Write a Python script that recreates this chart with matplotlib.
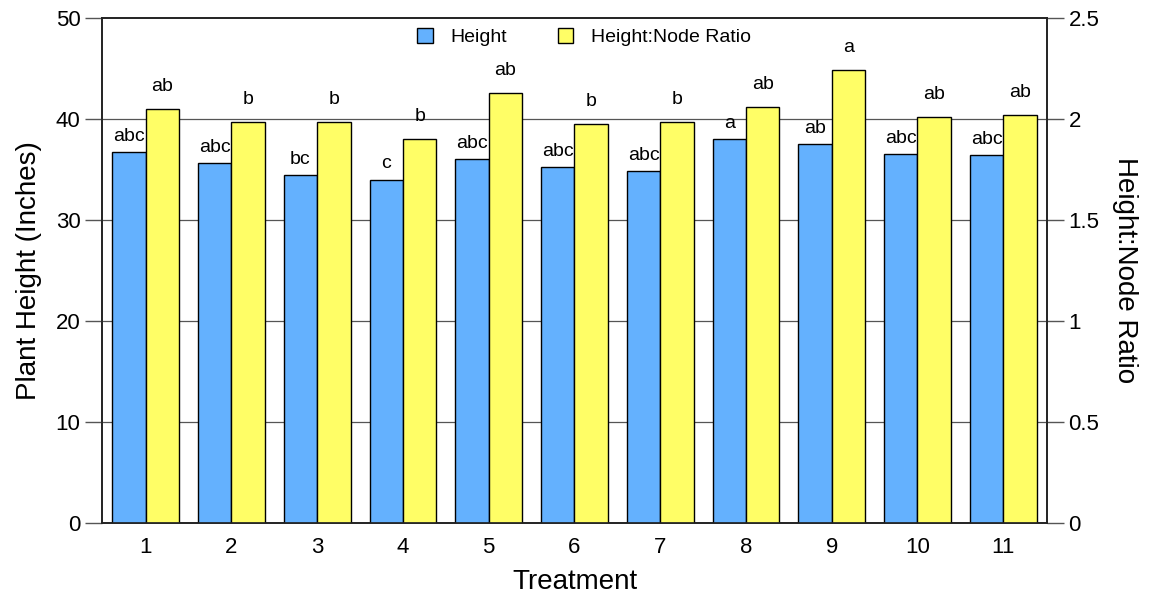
import numpy as np
import matplotlib
matplotlib.use('Agg')
from matplotlib import pyplot as plt

plt.rcParams['font.family'] = ['Liberation Sans', 'DejaVu Sans']

treatments = [1, 2, 3, 4, 5, 6, 7, 8, 9, 10, 11]
height = [36.7, 35.6, 34.4, 34.0, 36.0, 35.2, 34.8, 38.0, 37.5, 36.5, 36.4]
ratio = [2.05, 1.985, 1.985, 1.90, 2.13, 1.975, 1.985, 2.06, 2.24, 2.01, 2.02]
height_letters = ['abc', 'abc', 'bc', 'c', 'abc', 'abc', 'abc', 'a', 'ab', 'abc', 'abc']
ratio_letters = ['ab', 'b', 'b', 'b', 'ab', 'b', 'b', 'ab', 'a', 'ab', 'ab']

blue = '#64b1fe'
yellow = '#fffe66'
w = 0.39

fig = plt.figure(figsize=(11.51, 5.97), dpi=100)
ax = fig.add_axes([0.0886, 0.124, 0.821, 0.846])
ax2 = ax.twinx()
ax.set_zorder(ax2.get_zorder() + 1)
ax.patch.set_visible(False)

x = np.array(treatments)

# horizontal grid lines behind the bars
for yv in [10, 20, 30, 40]:
    ax.axhline(yv, color='#555555', lw=0.9, zorder=0)

b1 = ax.bar(x - w / 2, height, w, color=blue, edgecolor='black', lw=1, zorder=2)
# ratio bars drawn on the left axis scale (1 ratio unit = 20 inches) so they share z-order
b2 = ax.bar(x + w / 2, np.array(ratio) * 20, w, color=yellow, edgecolor='black', lw=1, zorder=2)

for xi, h, t in zip(x, height, height_letters):
    ax.text(xi - w / 2, h + 0.7, t, ha='center', va='bottom', fontsize=14)
for xi, r, t in zip(x, ratio, ratio_letters):
    ax.text(xi + w / 2, r * 20 + 1.4, t, ha='center', va='bottom', fontsize=14)

ax.set_xlim(0.49, 11.51)
ax.set_ylim(0, 50)
ax2.set_ylim(0, 2.5)
ax.set_xticks(treatments)
ax.set_yticks([0, 10, 20, 30, 40, 50])
ax2.set_yticks([0, 0.5, 1, 1.5, 2, 2.5])
ax2.set_yticklabels(['0', '0.5', '1', '1.5', '2', '2.5'])

ax.tick_params(axis='y', labelsize=16, color='#555555', length=12, width=1)
ax.tick_params(axis='x', labelsize=16, length=0, pad=10)
ax2.tick_params(axis='y', labelsize=16, color='#555555', length=12, width=1)

for a in (ax, ax2):
    for s in a.spines.values():
        s.set_linewidth(1.2)
        s.set_color('#222222')

ax.set_xlabel('Treatment', fontsize=20, labelpad=8)
ax.set_ylabel('Plant Height (Inches)', fontsize=20, labelpad=10)
ax2.set_ylabel('Height:Node Ratio', fontsize=20, rotation=270, labelpad=28)

ax.legend([b1, b2], ['Height', 'Height:Node Ratio'], loc='upper center', ncol=2,
          frameon=False, fontsize=14, handlelength=0.8, handleheight=0.8,
          handletextpad=0.9, columnspacing=2.6, bbox_to_anchor=(0.51, 1.015))

fig.savefig('out.png', dpi=100)
